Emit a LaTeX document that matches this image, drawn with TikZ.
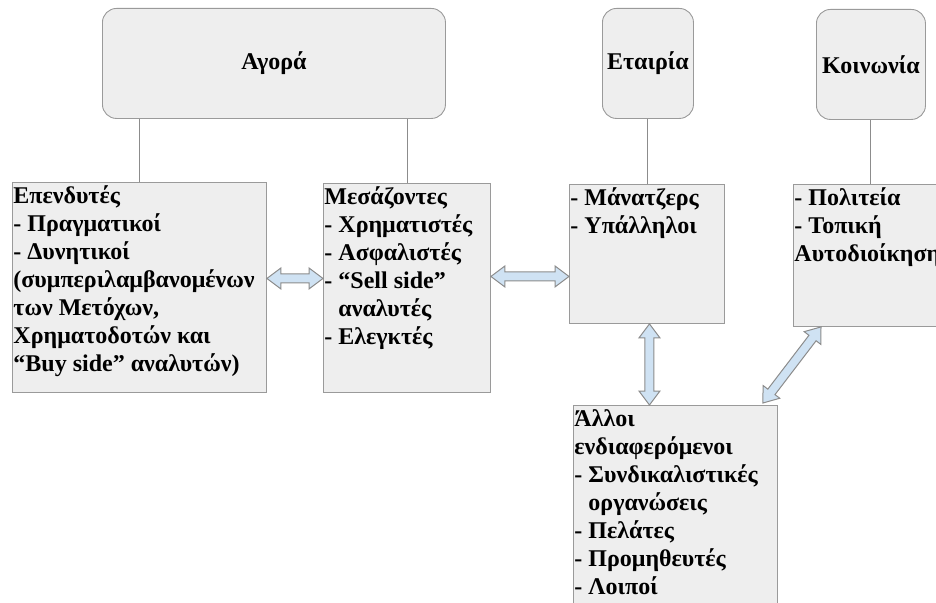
\documentclass[tikz,border=0pt]{standalone}
\usepackage{fontspec}
\setmainfont{Liberation Serif}
\usetikzlibrary{
  calc,
  positioning
}
\definecolor{boxfill}{HTML}{EEEEEE}
\definecolor{boxline}{HTML}{9A9A9A}
\definecolor{arrfill}{HTML}{CFE2F3}
\definecolor{arrline}{HTML}{8C8C8C}

% block arrow with two heads, from #1 to #2
\newcommand{\arrhead}{14pt}
\newcommand{\arrwide}{10.5pt}
\newcommand{\arrthin}{4.5pt}
\newcommand{\dblarrow}[2]{%
  \path (#1) coordinate (arrA) (#2) coordinate (arrB);
  \coordinate (hA) at ($(arrA)!\arrhead!(arrB)$);
  \coordinate (hB) at ($(arrB)!\arrhead!(arrA)$);
  \filldraw[blockarrow] (arrA)
    -- ($(hA)!\arrwide!90:(arrB)$) -- ($(hA)!\arrthin!90:(arrB)$)
    -- ($(hB)!\arrthin!-90:(arrA)$) -- ($(hB)!\arrwide!-90:(arrA)$)
    -- (arrB)
    -- ($(hB)!\arrwide!90:(arrA)$) -- ($(hB)!\arrthin!90:(arrA)$)
    -- ($(hA)!\arrthin!-90:(arrB)$) -- ($(hA)!\arrwide!-90:(arrB)$)
    -- cycle;
}

\begin{document}
\begin{tikzpicture}[x=1pt, y=-1pt,
    topbox/.style={draw=boxline, fill=boxfill, line width=0.9pt, rounded corners=14pt,
      anchor=north west, inner sep=0pt, font=\fontsize{24pt}{28pt}\selectfont\bfseries},
    listbox/.style={draw=boxline, fill=boxfill, line width=0.9pt,
      anchor=north west, inner xsep=1pt, inner ysep=1pt, font=\fontsize{24pt}{28pt}\selectfont\bfseries},
    link/.style={draw=arrline, line width=0.9pt},
    blockarrow/.style={draw=arrline, fill=arrfill, line width=1pt}]
    \useasboundingbox (0,0) rectangle (936,602);
    \clip (0,0) rectangle (936,602);

    % Αγορά
    \node[topbox, minimum width=343pt, minimum height=110pt] (agora) at (102,8) {Αγορά};

    % Εταιρία
    \node[topbox, minimum width=91pt, minimum height=110pt] (etair) at (602,8) {Εταιρία};

    % Κοινωνία
    \node[topbox, minimum width=109pt, minimum height=110pt] (koin) at (816,9) {Κοινωνία};

    % Επενδυτές
    \node[listbox] (epend) at (12,182) {\parbox[c][208pt][t]{252pt}{\strut Επενδυτές\\
        - Πραγματικοί\\
        - Δυνητικοί\\
        (συμπεριλαμβανομένων\\
        των Μετόχων,\\
        Χρηματοδοτών και\\
        “Buy side” αναλυτών)}};
    \draw[link] (epend.north) -- (epend.north |- agora.south);

    % Μεσάζοντες
    \node[listbox] (mesaz) at (323,183) {\parbox[c][207pt][t]{165pt}{\strut Μεσάζοντες\\
        - Χρηματιστές\\
        - Ασφαλιστές\\
        - “Sell side”\\
        \hphantom{-\ }αναλυτές\\
        - Ελεγκτές}};
    \draw[link] (mesaz.north) -- (mesaz.north |- agora.south);

    % Μάνατζερς
    \node[listbox] (manat) at (569,184) {\parbox[c][137pt][t]{153pt}{\strut - Μάνατζερς\\
        - Υπάλληλοι}};
    \draw[link] (manat.north) -- (manat.north |- etair.south);

    % Πολιτεία
    \node[listbox] (polit) at (793,184) {\parbox[c][140pt][t]{152pt}{\strut - Πολιτεία\\
        - Τοπική\\
        Αυτοδιοίκηση}};
    \draw[link] (polit.north) -- (polit.north |- koin.south);

    % Άλλοι ενδιαφερόμενοι
    \node[listbox] (alloi) at (573,405) {\parbox[c][213pt][t]{202pt}{\strut Άλλοι\\
        ενδιαφερόμενοι\\
        - Συνδικαλιστικές\\
        \hphantom{-\ }οργανώσεις\\
        - Πελάτες\\
        - Προμηθευτές\\
        - Λοιποί}};

    % Βέλη
    \coordinate (ar1) at ([yshift=9pt]epend.east);
    \dblarrow{ar1}{ar1 -| mesaz.west}
    \coordinate (ar2) at ([yshift=11.5pt]mesaz.east);
    \dblarrow{ar2}{ar2 -| manat.west}
    \coordinate (ar3) at ([xshift=2.5pt]manat.south);
    \dblarrow{ar3}{ar3 |- alloi.north}
    \dblarrow{[xshift=28pt]polit.south west}{[xshift=-15pt, yshift=2pt]alloi.north east}
\end{tikzpicture}
\end{document}
